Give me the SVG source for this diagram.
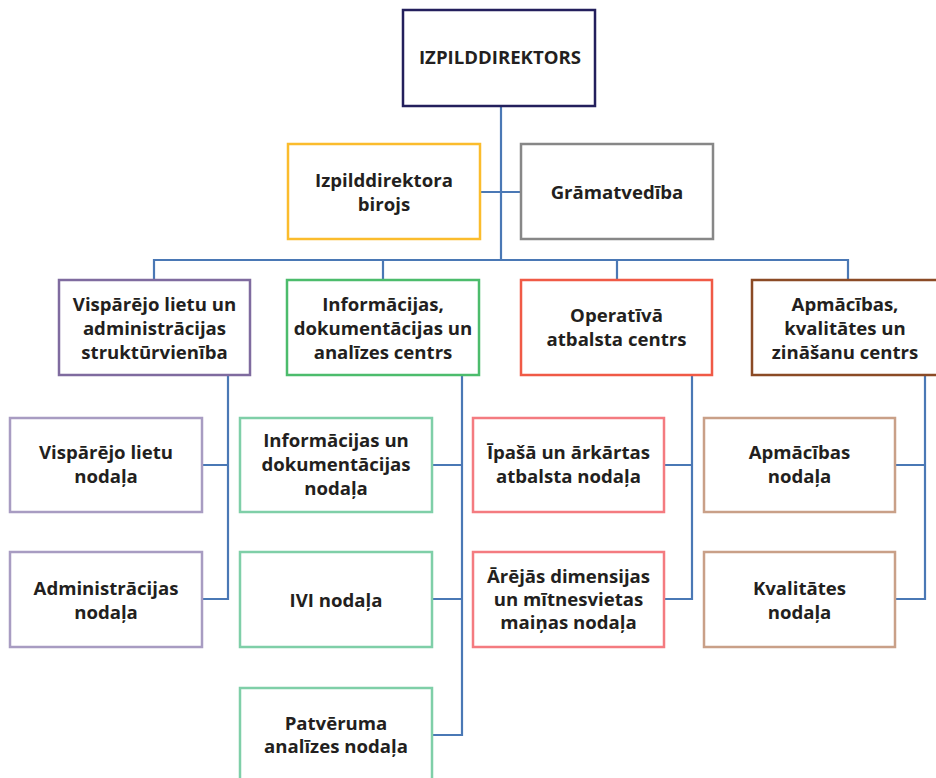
<svg xmlns="http://www.w3.org/2000/svg" width="936" height="778" viewBox="0 0 936 778">
<style>
.box{fill:#fff;stroke-width:2.5}
.t{font-family:"Open Sans","Noto Sans","Liberation Sans",sans-serif;font-weight:700;font-size:18.6px;fill:#231f20;text-anchor:middle}
.c{fill:none;stroke:#4a78b5;stroke-width:2.2}
</style>
<rect width="936" height="778" fill="#fff"/>
<g id="connectors">
<path class="c" d="M501 106V260M480 192H521M154 280V260H848V280M383 260V280M617 260V280"/>
<path class="c" d="M228 375V599H202M202 465H228"/>
<path class="c" d="M462 375V735H432M432 465H462M432 599H462"/>
<path class="c" d="M692 375V599H664M664 465H692"/>
<path class="c" d="M925 375V599H895M895 465H925"/>
</g>
<g id="n-izpilddirektors"><rect class="box" x="403" y="10" width="192" height="96" stroke="#231f5c"/><text class="t" x="500" y="64">IZPILDDIREKTORS</text></g>
<g id="n-birojs"><rect class="box" x="288" y="144" width="192" height="95" stroke="#fbbc2c"/><text class="t" x="384" y="187">Izpilddirektora</text><text class="t" x="384" y="211">birojs</text></g>
<g id="n-gramatvediba"><rect class="box" x="521" y="144" width="192" height="95" stroke="#878787"/><text class="t" x="617" y="199">Grāmatvedība</text></g>
<g id="n-visparejo-admin"><rect class="box" x="59" y="280" width="191" height="95" stroke="#7f6b9f"/><text class="t" x="154.5" y="311">Vispārējo lietu un</text><text class="t" x="154.5" y="335">administrācijas</text><text class="t" x="154.5" y="359">struktūrvienība</text></g>
<g id="n-info-centrs"><rect class="box" x="287" y="280" width="192" height="95" stroke="#4cbc6c"/><text class="t" x="383" y="311">Informācijas,</text><text class="t" x="383" y="335">dokumentācijas un</text><text class="t" x="383" y="359">analīzes centrs</text></g>
<g id="n-operativa"><rect class="box" x="521" y="280" width="191" height="95" stroke="#f05a46"/><text class="t" x="616.5" y="322">Operatīvā</text><text class="t" x="616.5" y="346">atbalsta centrs</text></g>
<g id="n-apmacibas-centrs"><rect class="box" x="752" y="280" width="192" height="95" stroke="#8b4a25"/><text class="t" x="845" y="311">Apmācības,</text><text class="t" x="845" y="335">kvalitātes un</text><text class="t" x="845" y="359">zināšanu centrs</text></g>
<g id="n-visparejo-nodala"><rect class="box" x="10" y="418" width="192" height="94" stroke="#a89cc2"/><text class="t" x="106" y="459">Vispārējo lietu</text><text class="t" x="106" y="483">nodaļa</text></g>
<g id="n-admin-nodala"><rect class="box" x="10" y="552" width="192" height="95" stroke="#a89cc2"/><text class="t" x="106" y="595">Administrācijas</text><text class="t" x="106" y="619">nodaļa</text></g>
<g id="n-info-nodala"><rect class="box" x="240" y="418" width="192" height="94" stroke="#7fcfa8"/><text class="t" x="336" y="447">Informācijas un</text><text class="t" x="336" y="471">dokumentācijas</text><text class="t" x="336" y="495">nodaļa</text></g>
<g id="n-ivi-nodala"><rect class="box" x="240" y="552" width="192" height="95" stroke="#7fcfa8"/><text class="t" x="336" y="607">IVI nodaļa</text></g>
<g id="n-patveruma"><rect class="box" x="240" y="688" width="192" height="96" stroke="#7fcfa8"/><text class="t" x="336" y="730">Patvēruma</text><text class="t" x="336" y="753">analīzes nodaļa</text></g>
<g id="n-ipasa"><rect class="box" x="473" y="418" width="191" height="94" stroke="#f47b80"/><text class="t" x="568.5" y="459">Īpašā un ārkārtas</text><text class="t" x="568.5" y="483">atbalsta nodaļa</text></g>
<g id="n-arejas"><rect class="box" x="473" y="552" width="191" height="95" stroke="#f47b80"/><text class="t" x="568.5" y="583">Ārējās dimensijas</text><text class="t" x="568.5" y="606">un mītnesvietas</text><text class="t" x="568.5" y="629">maiņas nodaļa</text></g>
<g id="n-apmacibas-nodala"><rect class="box" x="704" y="418" width="191" height="94" stroke="#c9a088"/><text class="t" x="799.5" y="459">Apmācības</text><text class="t" x="799.5" y="483">nodaļa</text></g>
<g id="n-kvalitates"><rect class="box" x="704" y="552" width="191" height="95" stroke="#c9a088"/><text class="t" x="799.5" y="595">Kvalitātes</text><text class="t" x="799.5" y="619">nodaļa</text></g>
</svg>
